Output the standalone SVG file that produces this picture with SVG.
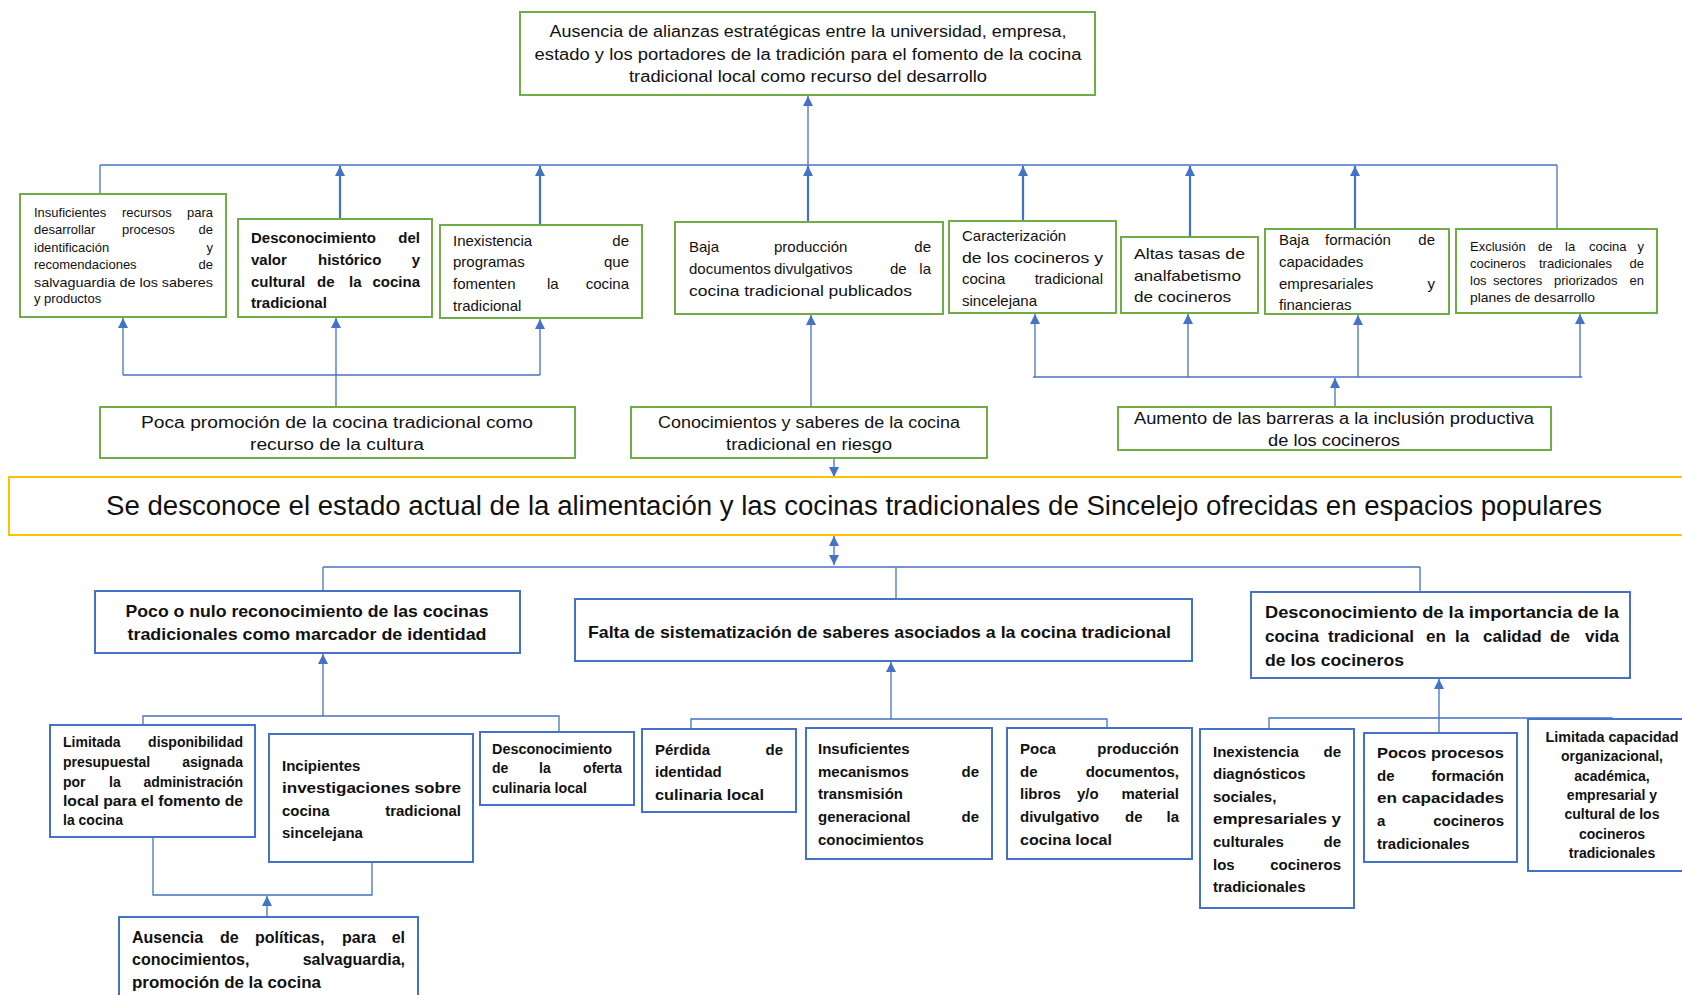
<svg xmlns="http://www.w3.org/2000/svg" width="1682" height="995" viewBox="0 0 1682 995">
<defs>
<marker id="ar" viewBox="0 0 10 10" refX="10" refY="5" markerWidth="10" markerHeight="10" markerUnits="userSpaceOnUse" orient="auto-start-reverse">
<path d="M0,0 L10,5 L0,10 z" fill="#4472C4"/>
</marker>
<style>
.g{fill:#fff;stroke:#70AD47;stroke-width:2}
.bl{fill:#fff;stroke:#4472C4;stroke-width:2}
.y{fill:#fff;stroke:#FFC000;stroke-width:2}
text{font-family:"Liberation Sans Narrow","Liberation Sans",Arial,sans-serif;fill:#111}
.bd text{font-weight:bold}
.e{text-anchor:end}
.m{text-anchor:middle}
.c{stroke:#4472C4;fill:none;stroke-width:1.3}
.k{stroke-width:2.2}
.f13 text{font-size:13px}
.f14 text{font-size:14px}
.f15 text{font-size:15px}
.f16 text{font-size:16px}
.f17 text{font-size:17px}
</style>
</defs>
<rect width="1682" height="995" fill="#fff"/>

<g id="connectors">
<line class="c" x1="808" y1="165" x2="808" y2="96" marker-end="url(#ar)"/>
<line class="c" x1="100" y1="165" x2="1557" y2="165"/>
<line class="c" x1="100" y1="194" x2="100" y2="165"/>
<line class="c k" x1="340" y1="219" x2="340" y2="166" marker-end="url(#ar)"/>
<line class="c k" x1="540" y1="225" x2="540" y2="166" marker-end="url(#ar)"/>
<line class="c k" x1="808" y1="222" x2="808" y2="166" marker-end="url(#ar)"/>
<line class="c k" x1="1023" y1="221" x2="1023" y2="166" marker-end="url(#ar)"/>
<line class="c k" x1="1190" y1="237" x2="1190" y2="166" marker-end="url(#ar)"/>
<line class="c k" x1="1355" y1="229" x2="1355" y2="166" marker-end="url(#ar)"/>
<line class="c" x1="1557" y1="229" x2="1557" y2="165"/>

<line class="c" x1="123" y1="375" x2="540" y2="375"/>
<line class="c" x1="123" y1="375" x2="123" y2="318" marker-end="url(#ar)"/>
<line class="c" x1="336" y1="407" x2="336" y2="318" marker-end="url(#ar)"/>
<line class="c" x1="540" y1="375" x2="540" y2="319" marker-end="url(#ar)"/>
<line class="c" x1="811" y1="407" x2="811" y2="315" marker-end="url(#ar)"/>
<line class="c" x1="834" y1="458" x2="834" y2="477" marker-end="url(#ar)"/>

<line class="c" x1="1033" y1="377" x2="1582" y2="377"/>
<line class="c" x1="1335" y1="407" x2="1335" y2="378" marker-end="url(#ar)"/>
<line class="c" x1="1035" y1="377" x2="1035" y2="314" marker-end="url(#ar)"/>
<line class="c" x1="1188" y1="377" x2="1188" y2="314" marker-end="url(#ar)"/>
<line class="c" x1="1358" y1="377" x2="1358" y2="315" marker-end="url(#ar)"/>
<line class="c" x1="1580" y1="377" x2="1580" y2="314" marker-end="url(#ar)"/>

<line class="c" x1="834" y1="536" x2="834" y2="565" marker-start="url(#ar)" marker-end="url(#ar)"/>
<line class="c" x1="323" y1="567" x2="1420" y2="567"/>
<line class="c" x1="323" y1="567" x2="323" y2="591"/>
<line class="c" x1="896" y1="567" x2="896" y2="599"/>
<line class="c" x1="1420" y1="567" x2="1420" y2="592"/>

<line class="c" x1="323" y1="716" x2="323" y2="654" marker-end="url(#ar)"/>
<polyline class="c" points="143,725 143,716 559,716 559,732"/>
<polyline class="c" points="153,837 153,895 372,895 372,862"/>
<line class="c" x1="267" y1="917" x2="267" y2="896" marker-end="url(#ar)"/>

<line class="c" x1="891" y1="719" x2="891" y2="662" marker-end="url(#ar)"/>
<polyline class="c" points="691,729 691,719 1107,719 1107,728"/>

<line class="c" x1="1439" y1="733" x2="1439" y2="679" marker-end="url(#ar)"/>
<polyline class="c" points="1269,729 1269,718 1612,718 1612,719"/>
</g>

<g id="n-top" class="f16">
<rect class="g" x="520" y="12" width="575" height="83"/>
<text class="m" x="808" y="37" textLength="517" lengthAdjust="spacingAndGlyphs">Ausencia de alianzas estratégicas entre la universidad, empresa,</text>
<text class="m" x="808" y="60" textLength="547" lengthAdjust="spacingAndGlyphs">estado y los portadores de la tradición para el fomento de la cocina</text>
<text class="m" x="808" y="82" textLength="358" lengthAdjust="spacingAndGlyphs">tradicional local como recurso del desarrollo</text>
</g>

<g id="n-insuficientes-recursos" class="f13">
<rect class="g" x="20" y="194" width="206" height="123"/>
<text y="217"><tspan x="34">Insuficientes</tspan><tspan x="122">recursos</tspan></text><text class="e" x="213" y="217">para</text>
<text y="234"><tspan x="34">desarrollar</tspan><tspan x="122">procesos</tspan></text><text class="e" x="213" y="234">de</text>
<text x="34" y="252">identificación</text><text class="e" x="213" y="252">y</text>
<text x="34" y="269">recomendaciones</text><text class="e" x="213" y="269">de</text>
<text x="34" y="287" textLength="179" lengthAdjust="spacingAndGlyphs">salvaguardia de los saberes</text>
<text x="34" y="303">y productos</text>
</g>

<g id="n-desconocimiento-valor" class="f15 bd">
<rect class="g" x="238" y="219" width="194" height="98"/>
<text x="251" y="243">Desconocimiento</text><text class="e" x="420" y="243">del</text>
<text y="265"><tspan x="251">valor</tspan><tspan x="318">histórico</tspan></text><text class="e" x="420" y="265">y</text>
<text y="287"><tspan x="251">cultural</tspan><tspan x="317">de</tspan><tspan x="349">la</tspan></text><text class="e" x="420" y="287">cocina</text>
<text x="251" y="308">tradicional</text>
</g>

<g id="n-inexistencia-programas" class="f15">
<rect class="g" x="440" y="225" width="202" height="93"/>
<text x="453" y="246">Inexistencia</text><text class="e" x="629" y="246">de</text>
<text x="453" y="267">programas</text><text class="e" x="629" y="267">que</text>
<text y="289"><tspan x="453">fomenten</tspan><tspan x="547">la</tspan></text><text class="e" x="629" y="289">cocina</text>
<text x="453" y="311">tradicional</text>
</g>

<g id="n-baja-produccion" class="f15">
<rect class="g" x="675" y="222" width="268" height="92"/>
<text y="252"><tspan x="689">Baja</tspan><tspan x="774">producción</tspan></text><text class="e" x="931" y="252">de</text>
<text y="274"><tspan x="689">documentos</tspan><tspan x="774">divulgativos</tspan><tspan x="890">de</tspan></text><text class="e" x="931" y="274">la</text>
<text x="689" y="296" textLength="223" lengthAdjust="spacingAndGlyphs">cocina tradicional publicados</text>
</g>

<g id="n-caracterizacion" class="f15">
<rect class="g" x="949" y="221" width="167" height="92"/>
<text x="962" y="241">Caracterización</text>
<text x="962" y="263" textLength="141" lengthAdjust="spacingAndGlyphs">de los cocineros y</text>
<text x="962" y="284">cocina</text><text class="e" x="1103" y="284">tradicional</text>
<text x="962" y="306">sincelejana</text>
</g>

<g id="n-altas-tasas" class="f15">
<rect class="g" x="1121" y="237" width="137" height="76"/>
<text x="1134" y="259" textLength="111" lengthAdjust="spacingAndGlyphs">Altas tasas de</text>
<text x="1134" y="281" textLength="107" lengthAdjust="spacingAndGlyphs">analfabetismo</text>
<text x="1134" y="302" textLength="97" lengthAdjust="spacingAndGlyphs">de cocineros</text>
</g>

<g id="n-baja-formacion" class="f15">
<rect class="g" x="1265" y="229" width="184" height="85"/>
<text y="245"><tspan x="1279">Baja</tspan><tspan x="1325">formación</tspan></text><text class="e" x="1435" y="245">de</text>
<text x="1279" y="267">capacidades</text>
<text x="1279" y="289">empresariales</text><text class="e" x="1435" y="289">y</text>
<text x="1279" y="310">financieras</text>
</g>

<g id="n-exclusion" class="f13">
<rect class="g" x="1456" y="229" width="201" height="84"/>
<text y="251"><tspan x="1470">Exclusión</tspan><tspan x="1538">de</tspan><tspan x="1565">la</tspan><tspan x="1589">cocina</tspan></text><text class="e" x="1644" y="251">y</text>
<text y="268"><tspan x="1470">cocineros</tspan><tspan x="1539">tradicionales</tspan></text><text class="e" x="1644" y="268">de</text>
<text y="285"><tspan x="1470">los</tspan><tspan x="1493">sectores</tspan><tspan x="1554">priorizados</tspan></text><text class="e" x="1644" y="285">en</text>
<text x="1470" y="302" textLength="125" lengthAdjust="spacingAndGlyphs">planes de desarrollo</text>
</g>

<g id="n-poca-promocion" class="f16">
<rect class="g" x="100" y="407" width="475" height="51"/>
<text class="m" x="337" y="428" textLength="392" lengthAdjust="spacingAndGlyphs">Poca promoción de la cocina tradicional como</text>
<text class="m" x="337" y="450" textLength="174" lengthAdjust="spacingAndGlyphs">recurso de la cultura</text>
</g>

<g id="n-conocimientos" class="f16">
<rect class="g" x="631" y="407" width="356" height="51"/>
<text class="m" x="809" y="428" textLength="302" lengthAdjust="spacingAndGlyphs">Conocimientos y saberes de la cocina</text>
<text class="m" x="809" y="450" textLength="166" lengthAdjust="spacingAndGlyphs">tradicional en riesgo</text>
</g>

<g id="n-aumento" class="f16">
<rect class="g" x="1118" y="407" width="433" height="43"/>
<text class="m" x="1334" y="424" textLength="400" lengthAdjust="spacingAndGlyphs">Aumento de las barreras a la inclusión productiva</text>
<text class="m" x="1334" y="446" textLength="132" lengthAdjust="spacingAndGlyphs">de los cocineros</text>
</g>

<g id="n-main">
<rect class="y" x="9" y="477" width="1690" height="58"/>
<text x="106" y="515" font-size="27" textLength="1496" lengthAdjust="spacingAndGlyphs">Se desconoce el estado actual de la alimentación y las cocinas tradicionales de Sincelejo ofrecidas en espacios populares</text>
</g>

<g id="n-poco-nulo" class="f17 bd">
<rect class="bl" x="95" y="591" width="425" height="62"/>
<text class="m" x="307" y="617" textLength="363" lengthAdjust="spacingAndGlyphs">Poco o nulo reconocimiento de las cocinas</text>
<text class="m" x="307" y="640" textLength="359" lengthAdjust="spacingAndGlyphs">tradicionales como marcador de identidad</text>
</g>

<g id="n-falta" class="f17 bd">
<rect class="bl" x="575" y="599" width="617" height="62"/>
<text x="588" y="638" textLength="583" lengthAdjust="spacingAndGlyphs">Falta de sistematización de saberes asociados a la cocina tradicional</text>
</g>

<g id="n-desconocimiento-importancia" class="f17 bd">
<rect class="bl" x="1251" y="592" width="379" height="86"/>
<text x="1265" y="618" textLength="354" lengthAdjust="spacingAndGlyphs">Desconocimiento de la importancia de la</text>
<text y="642"><tspan x="1265">cocina</tspan><tspan x="1328">tradicional</tspan><tspan x="1426">en</tspan><tspan x="1455">la</tspan><tspan x="1483">calidad</tspan><tspan x="1550">de</tspan></text><text class="e" x="1619" y="642">vida</text>
<text x="1265" y="666" textLength="139" lengthAdjust="spacingAndGlyphs">de los cocineros</text>
</g>

<g id="n-limitada-disponibilidad" class="f14 bd">
<rect class="bl" x="50" y="725" width="205" height="112"/>
<text x="63" y="747">Limitada</text><text class="e" x="243" y="747">disponibilidad</text>
<text x="63" y="767">presupuestal</text><text class="e" x="243" y="767">asignada</text>
<text y="787"><tspan x="63">por</tspan><tspan x="109">la</tspan></text><text class="e" x="243" y="787">administración</text>
<text x="63" y="806" textLength="180" lengthAdjust="spacingAndGlyphs">local para el fomento de</text>
<text x="63" y="825">la cocina</text>
</g>

<g id="n-incipientes" class="f15 bd">
<rect class="bl" x="269" y="734" width="204" height="128"/>
<text x="282" y="771">Incipientes</text>
<text x="282" y="793" textLength="179" lengthAdjust="spacingAndGlyphs">investigaciones sobre</text>
<text x="282" y="816">cocina</text><text class="e" x="461" y="816">tradicional</text>
<text x="282" y="838">sincelejana</text>
</g>

<g id="n-desconocimiento-oferta" class="f14 bd">
<rect class="bl" x="480" y="732" width="154" height="73"/>
<text x="492" y="754" textLength="120" lengthAdjust="spacingAndGlyphs">Desconocimiento</text>
<text y="773"><tspan x="492">de</tspan><tspan x="539">la</tspan></text><text class="e" x="622" y="773">oferta</text>
<text x="492" y="793" textLength="95" lengthAdjust="spacingAndGlyphs">culinaria local</text>
</g>

<g id="n-ausencia-politicas" class="f16 bd">
<rect class="bl" x="119" y="917" width="299" height="90"/>
<text y="943"><tspan x="132">Ausencia</tspan><tspan x="220">de</tspan><tspan x="255">políticas,</tspan><tspan x="342">para</tspan></text><text class="e" x="405" y="943">el</text>
<text x="132" y="965">conocimientos,</text><text class="e" x="405" y="965">salvaguardia,</text>
<text x="132" y="988" textLength="189" lengthAdjust="spacingAndGlyphs">promoción de la cocina</text>
</g>

<g id="n-perdida" class="f15 bd">
<rect class="bl" x="642" y="729" width="154" height="83"/>
<text x="655" y="755">Pérdida</text><text class="e" x="783" y="755">de</text>
<text x="655" y="777">identidad</text>
<text x="655" y="800" textLength="109" lengthAdjust="spacingAndGlyphs">culinaria local</text>
</g>

<g id="n-insuficientes-mecanismos" class="f15 bd">
<rect class="bl" x="806" y="728" width="186" height="131"/>
<text x="818" y="754">Insuficientes</text>
<text x="818" y="777">mecanismos</text><text class="e" x="979" y="777">de</text>
<text x="818" y="799">transmisión</text>
<text x="818" y="822">generacional</text><text class="e" x="979" y="822">de</text>
<text x="818" y="845">conocimientos</text>
</g>

<g id="n-poca-produccion" class="f15 bd">
<rect class="bl" x="1007" y="728" width="185" height="131"/>
<text x="1020" y="754">Poca</text><text class="e" x="1179" y="754">producción</text>
<text x="1020" y="777">de</text><text class="e" x="1179" y="777">documentos,</text>
<text y="799"><tspan x="1020">libros</tspan><tspan x="1077">y/o</tspan></text><text class="e" x="1179" y="799">material</text>
<text y="822"><tspan x="1020">divulgativo</tspan><tspan x="1125">de</tspan></text><text class="e" x="1179" y="822">la</text>
<text x="1020" y="845" textLength="92" lengthAdjust="spacingAndGlyphs">cocina local</text>
</g>

<g id="n-inexistencia-diagnosticos" class="f15 bd">
<rect class="bl" x="1200" y="729" width="154" height="179"/>
<text x="1213" y="757">Inexistencia</text><text class="e" x="1341" y="757">de</text>
<text x="1213" y="779">diagnósticos</text>
<text x="1213" y="802">sociales,</text>
<text x="1213" y="824" textLength="128" lengthAdjust="spacingAndGlyphs">empresariales y</text>
<text x="1213" y="847">culturales</text><text class="e" x="1341" y="847">de</text>
<text x="1213" y="870">los</text><text class="e" x="1341" y="870">cocineros</text>
<text x="1213" y="892">tradicionales</text>
</g>

<g id="n-pocos-procesos" class="f15 bd">
<rect class="bl" x="1364" y="733" width="153" height="129"/>
<text x="1377" y="758" textLength="127" lengthAdjust="spacingAndGlyphs">Pocos procesos</text>
<text x="1377" y="781">de</text><text class="e" x="1504" y="781">formación</text>
<text x="1377" y="803" textLength="127" lengthAdjust="spacingAndGlyphs">en capacidades</text>
<text x="1377" y="826">a</text><text class="e" x="1504" y="826">cocineros</text>
<text x="1377" y="849">tradicionales</text>
</g>

<g id="n-limitada-capacidad" class="f14 bd">
<rect class="bl" x="1528" y="719" width="170" height="152"/>
<text class="m" x="1612" y="742" textLength="133" lengthAdjust="spacingAndGlyphs">Limitada capacidad</text>
<text class="m" x="1612" y="761">organizacional,</text>
<text class="m" x="1612" y="781">académica,</text>
<text class="m" x="1612" y="800">empresarial y</text>
<text class="m" x="1612" y="819">cultural de los</text>
<text class="m" x="1612" y="839">cocineros</text>
<text class="m" x="1612" y="858">tradicionales</text>
</g>
</svg>
